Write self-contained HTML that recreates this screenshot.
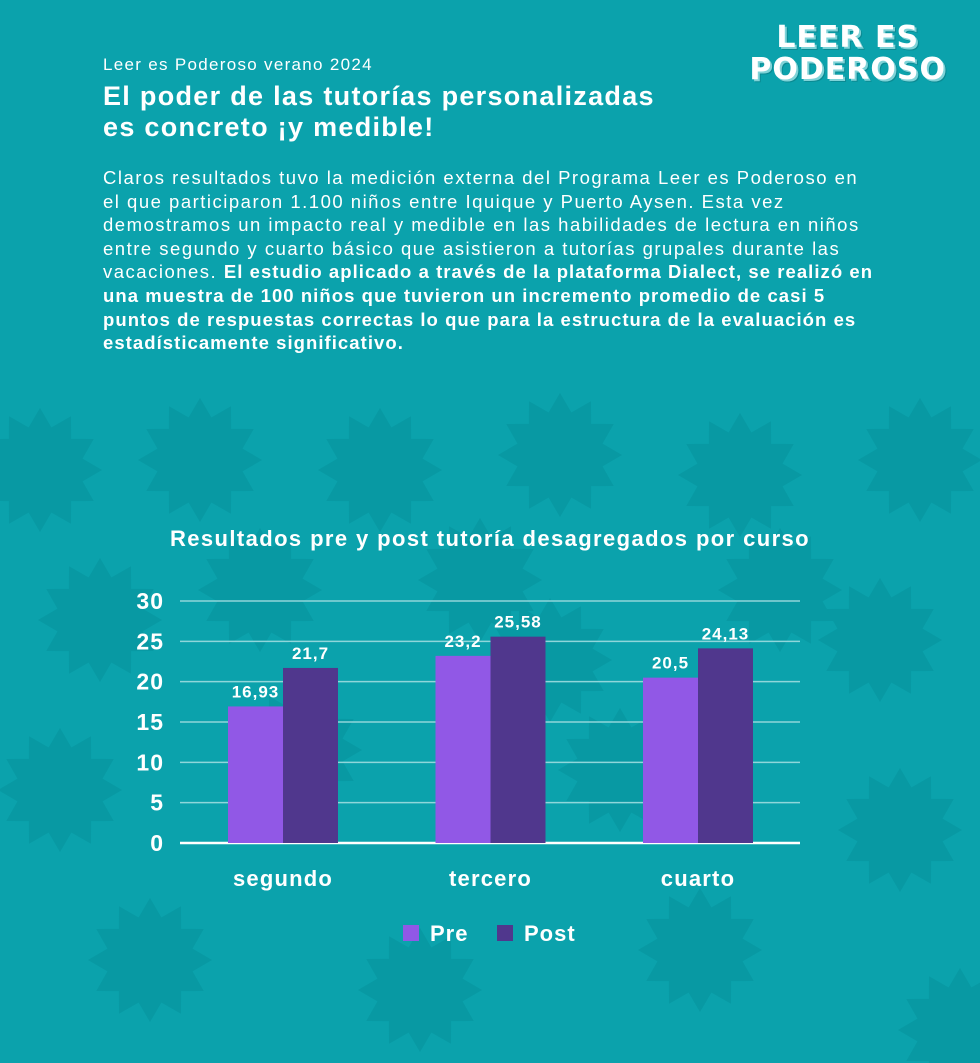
<!DOCTYPE html>
<html><head><meta charset="utf-8">
<style>
html,body{margin:0;padding:0}
body{width:980px;height:1063px;background:#0ba2ac;position:relative;overflow:hidden;font-family:"Liberation Sans",sans-serif;color:#fff}
.abs{position:absolute;white-space:nowrap}
#kicker{left:103px;top:55px;font-size:17px;letter-spacing:1.3px}
#title{left:103px;top:81px;font-size:27px;font-weight:bold;line-height:31px;letter-spacing:1.3px}
#body{left:103px;top:166px;font-size:18.5px;line-height:23.6px;letter-spacing:1.5px}
#body b{letter-spacing:1.05px}
#logo{right:34px;top:22px;text-align:center;font-family:"DejaVu Sans",sans-serif;font-weight:bold;font-size:30px;line-height:32px;letter-spacing:1px;text-shadow:2px 2px 0 #7fd3d8,3px 3px 0 #0a8a93}
</style></head>
<body>
<svg class="abs" style="left:0;top:0" width="980" height="1063">
<g id="stars" fill="#0899a3"></g>
</svg>
<div id="kicker" class="abs">Leer es Poderoso verano 2024</div>
<div id="title" class="abs">El poder de las tutorías personalizadas<br>es concreto ¡y medible!</div>
<div id="logo" class="abs">LEER ES<br>PODEROSO</div>
<div id="body" class="abs">Claros resultados tuvo la medición externa del Programa Leer es Poderoso en<br>el que participaron 1.100 niños entre Iquique y Puerto Aysen. Esta vez<br>demostramos un impacto real y medible en las habilidades de lectura en niños<br>entre segundo y cuarto básico que asistieron a tutorías grupales durante las<br>vacaciones. <b>El estudio aplicado a través de la plataforma Dialect, se realizó en<br>una muestra de 100 niños que tuvieron un incremento promedio de casi 5<br>puntos de respuestas correctas lo que para la estructura de la evaluación es<br>estadísticamente significativo.</b></div>
<svg id="chart" class="abs" style="left:0;top:0" width="980" height="1063"></svg>
<script>
const categories=["segundo","tercero","cuarto"];
const preValues=[16.93,23.2,20.5];
const postValues=[21.7,25.58,24.13];
const preLabels=["16,93","23,2","20,5"];
const postLabels=["21,7","25,58","24,13"];
const yTicks=[0,5,10,15,20,25,30];
const seriesNames=["Pre","Post"];

const NS="http://www.w3.org/2000/svg";
const sg=document.getElementById('stars');
const starPos=[[40,470],[200,460],[380,470],[560,455],[740,475],[920,460],[100,620],[480,580],[880,640],[60,790],[300,750],[620,770],[900,830],[150,960],[420,990],[700,950],[960,1030],[550,660],[260,590],[780,590]];
starPos.forEach(([cx,cy])=>{let pts=[];for(let i=0;i<24;i++){const r=i%2?44:62;const a=i*Math.PI/12;pts.push((cx+r*Math.cos(a)).toFixed(1)+','+(cy+r*Math.sin(a)).toFixed(1));}
const p=document.createElementNS(NS,'polygon');p.setAttribute('points',pts.join(' '));


sg.appendChild(p);});

const svg=document.getElementById('chart');
const x0=180,x1=800,yB=843,yT=601,yMax=30;
const y=v=>yB-(v/yMax)*(yB-yT);
const gx=i=>283+i*207.5;
const bw=55;
function mk(tag,attrs,txt){const e=document.createElementNS(NS,tag);for(const k in attrs)e.setAttribute(k,attrs[k]);if(txt!==undefined)e.textContent=txt;svg.appendChild(e);return e;}
const F='"Liberation Sans",sans-serif';
let t=mk('text',{x:490,y:546,'text-anchor':'middle','font-family':F,'font-weight':'bold','font-size':22,fill:'#fff','letter-spacing':1.4},'Resultados pre y post tutoría desagregados por curso');


yTicks.forEach(v=>{
 const l=mk('line',{x1:x0,x2:x1,y1:y(v),y2:y(v),stroke:v===0?'#ffffff':'#8fd6da','stroke-width':v===0?2.5:1.5});
 
 
 const tx=mk('text',{x:164,y:y(v)+8,'text-anchor':'end','font-family':F,'font-weight':'bold','font-size':23,fill:'#fff','letter-spacing':1},String(v));
 
 
});
categories.forEach((c,i)=>{
 const cx=gx(i);
 const b1=mk('rect',{x:cx-bw,y:y(preValues[i]),width:bw,height:yB-y(preValues[i]),fill:'#9158e6'});
 
 
 const b2=mk('rect',{x:cx,y:y(postValues[i]),width:bw,height:yB-y(postValues[i]),fill:'#50378d'});
 
 
 const l1=mk('text',{x:cx-bw/2,y:y(preValues[i])-9,'text-anchor':'middle','font-family':F,'font-weight':'bold','font-size':17,fill:'#fff','letter-spacing':1},preLabels[i]);
 
 
 const l2=mk('text',{x:cx+bw/2,y:y(postValues[i])-9,'text-anchor':'middle','font-family':F,'font-weight':'bold','font-size':17,fill:'#fff','letter-spacing':1},postLabels[i]);
 
 
 const cl=mk('text',{x:cx,y:886,'text-anchor':'middle','font-family':F,'font-weight':'bold','font-size':22,fill:'#fff','letter-spacing':1.2},c);
 
 
});
const lg=[[403,'#9158e6'],[497,'#50378d']];
seriesNames.forEach((n,i)=>{
 const r=mk('rect',{x:lg[i][0],y:925,width:16,height:16,fill:lg[i][1]});
 
 
 const tx=mk('text',{x:lg[i][0]+27,y:941,'font-family':F,'font-weight':'bold','font-size':22,fill:'#fff','letter-spacing':1},n);
 
 
});
</script>
</body></html>
